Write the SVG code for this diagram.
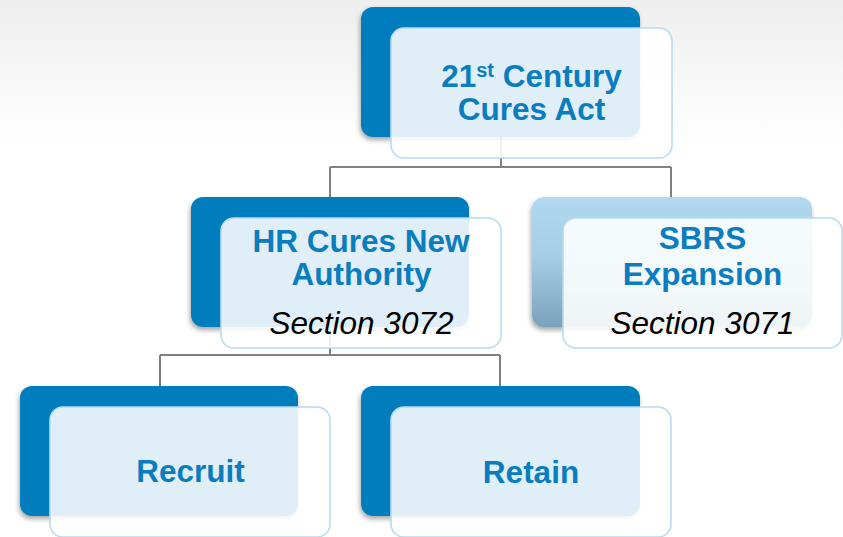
<svg xmlns="http://www.w3.org/2000/svg" width="843" height="537" viewBox="0 0 843 537">
  <defs>
    <linearGradient id="bg" x1="0" y1="0" x2="0" y2="1">
      <stop offset="0" stop-color="#eeeeee"/>
      <stop offset="1" stop-color="#ffffff"/>
    </linearGradient>
    <linearGradient id="paleBack" x1="0" y1="0" x2="0" y2="1">
      <stop offset="0" stop-color="#b0d9ef"/>
      <stop offset="0.45" stop-color="#a6cfe6"/>
      <stop offset="1" stop-color="#7aa2bb"/>
    </linearGradient>
    <filter id="shadow" x="-10%" y="-10%" width="120%" height="130%">
      <feDropShadow dx="-1" dy="3" stdDeviation="2.5" flood-color="#000000" flood-opacity="0.35"/>
    </filter>
  </defs>
  <style>
    .back { fill: #007dbd; filter: url(#shadow); }
    .back-pale { fill: url(#paleBack); filter: url(#shadow); }
    .front { fill: #ffffff; fill-opacity: 0.88; stroke: #b7dbef; stroke-width: 1.6; }
    .title { font-family: "Liberation Sans", Arial, sans-serif; font-weight: bold; font-size: 31.5px; fill: #0a7cc0; text-anchor: middle; }
    .sub { font-family: "Liberation Sans", Arial, sans-serif; font-style: italic; font-size: 31.5px; fill: #000000; text-anchor: middle; }
    .conn { fill: none; stroke: #808080; stroke-width: 2; }
  </style>

  <!-- backdrop: soft grey fade at the top -->
  <rect x="0" y="0" width="843" height="537" fill="#ffffff"/>
  <rect x="0" y="0" width="843" height="145" fill="url(#bg)"/>

  <!-- connectors -->
  <g id="connectors">
    <path class="conn" d="M501 137 V167 M330 167 H671 M330 167 V198 M671 167 V198"/>
    <path class="conn" d="M330 327 V355 M160 355 H500 M160 355 V387 M500 355 V387"/>
  </g>

  <!-- 21st Century Cures Act -->
  <g id="node-cures-act">
    <rect class="back" x="361" y="7" width="279" height="130" rx="12"/>
    <rect class="front" x="391" y="28" width="281" height="130" rx="13"/>
    <text class="title" x="531.5" y="87">21<tspan font-size="20" dy="-10">st</tspan><tspan dy="10"> Century</tspan></text>
    <text class="title" x="531.5" y="120">Cures Act</text>
  </g>

  <!-- HR Cures New Authority -->
  <g id="node-hr-authority">
    <rect class="back" x="191" y="197" width="278" height="130" rx="12"/>
    <rect class="front" x="221" y="218" width="280" height="130" rx="13"/>
    <text class="title" x="361" y="252">HR Cures New</text>
    <text class="title" x="361.5" y="285">Authority</text>
    <text class="sub" x="361.5" y="334">Section 3072</text>
  </g>

  <!-- SBRS Expansion -->
  <g id="node-sbrs">
    <rect class="back-pale" x="532" y="197" width="280" height="130" rx="12"/>
    <rect class="front" x="563" y="218" width="279" height="130" rx="13"/>
    <text class="title" x="702.5" y="249">SBRS</text>
    <text class="title" x="702.5" y="285">Expansion</text>
    <text class="sub" x="702.5" y="334">Section 3071</text>
  </g>

  <!-- Recruit -->
  <g id="node-recruit">
    <rect class="back" x="20" y="386" width="278" height="130" rx="12"/>
    <rect class="front" x="50" y="407" width="280" height="130" rx="13"/>
    <text class="title" x="190.5" y="482">Recruit</text>
  </g>

  <!-- Retain -->
  <g id="node-retain">
    <rect class="back" x="361" y="386" width="279" height="130" rx="12"/>
    <rect class="front" x="391" y="407" width="280" height="130" rx="13"/>
    <text class="title" x="531" y="483">Retain</text>
  </g>
</svg>
